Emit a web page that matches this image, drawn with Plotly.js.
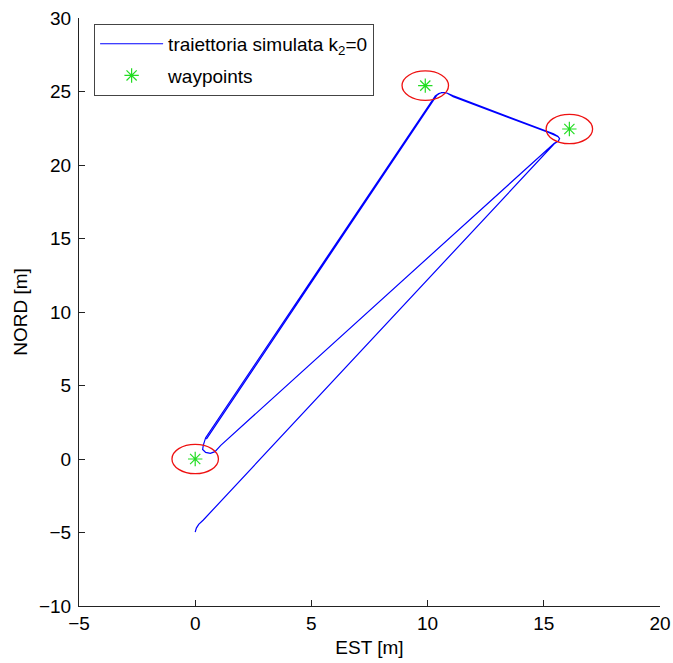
<!DOCTYPE html>
<html>
<head>
<meta charset="utf-8">
<script src="https://cdn.plot.ly/plotly-3.0.1.min.js"></script>
<style>
  html, body { margin: 0; padding: 0; background: #fff; }
  #plot { width: 673px; height: 663px; }
</style>
</head>
<body>
<div id="plot"></div>
<script>
// Simulated vehicle track (k2 = 0): EST / NORD positions in metres
const trackEst = [
  0.48, 10.40, 10.52, 10.66, 10.85, 11.10, 15.20, 15.45, 15.62, 15.68, 15.62, 15.45,
  1.51, 1.10, 0.85, 0.65, 0.45, 0.32, 0.35, 0.45,
  10.33, 10.48, 10.63, 10.83, 11.08, 15.18, 15.42, 15.60, 15.68, 15.62, 15.45,
  0.35, 0.15, 0.05, 0.00
];
const trackNord = [
  1.35, 24.75, 24.88, 24.93, 24.88, 24.64, 22.22, 22.06, 21.92, 21.80, 21.62, 21.48,
  1.52, 0.93, 0.50, 0.38, 0.45, 0.65, 0.95, 1.45,
  24.70, 24.86, 24.93, 24.90, 24.72, 22.30, 22.12, 21.96, 21.80, 21.62, 21.44,
  -4.15, -4.45, -4.70, -4.97
];

// Waypoints and acceptance radius
const wpEst = [0, 9.9, 16.1];
const wpNord = [0, 25.4, 22.45];
const wpRadius = 1;

// Axis ticks
const estTicks = [-5, 0, 5, 10, 15, 20];
const nordTicks = [-10, -5, 0, 5, 10, 15, 20, 25, 30];

const FONT = 'Liberation Sans, Arial, Helvetica, sans-serif';
const FS = 19;

const traces = [
  {
    x: trackEst, y: trackNord,
    type: 'scatter', mode: 'lines',
    name: 'traiettoria simulata k<sub>2</sub>=0',
    line: { color: '#0000ff', width: 1.2 },
    legendgroup: 'a'
  },
  {
    x: wpEst, y: wpNord,
    type: 'scatter', mode: 'markers',
    name: 'waypoints',
    marker: { symbol: 'asterisk-open', size: 12, color: '#22dd22',
              line: { color: '#22dd22', width: 1.2 } },
    legendgroup: 'b'
  }
];

// Acceptance circles around each waypoint
const shapes = wpEst.map((e, i) => ({
  type: 'circle', xref: 'x', yref: 'y',
  x0: e - wpRadius, x1: e + wpRadius,
  y0: wpNord[i] - wpRadius, y1: wpNord[i] + wpRadius,
  line: { color: '#ee1111', width: 1.3 }
}));

const axisBase = {
  showgrid: false, zeroline: false,
  showline: true, linecolor: '#222', linewidth: 1,
  ticks: 'inside', ticklen: 6, tickcolor: '#222', tickwidth: 1,
  mirror: false,
  tickfont: { family: FONT, size: FS, color: '#000' },
  automargin: false
};

const layout = {
  width: 673, height: 663,
  margin: { l: 79, r: 13, t: 18, b: 57 },
  paper_bgcolor: '#fff', plot_bgcolor: '#fff',
  font: { family: FONT, size: FS, color: '#000' },
  xaxis: Object.assign({}, axisBase, {
    range: [-5, 20], tickvals: estTicks,
    title: { text: 'EST [m]', font: { family: FONT, size: FS, color: '#000' }, standoff: 7 }
  }),
  yaxis: Object.assign({}, axisBase, {
    range: [-10, 30], tickvals: nordTicks, ticklabelstandoff: 3,
    title: { text: 'NORD [m]', font: { family: FONT, size: FS, color: '#000' }, standoff: 6 }
  }),
  shapes: shapes,
  showlegend: true,
  legend: {
    x: 0.026, y: 0.99, xanchor: 'left', yanchor: 'top',
    bgcolor: '#fff', bordercolor: '#444', borderwidth: 1,
    font: { family: FONT, size: FS, color: '#000' },
    itemwidth: 63,
    traceorder: 'grouped', tracegroupgap: 4
  }
};

Plotly.newPlot('plot', traces, layout, { staticPlot: true, displayModeBar: false });
</script>
</body>
</html>
